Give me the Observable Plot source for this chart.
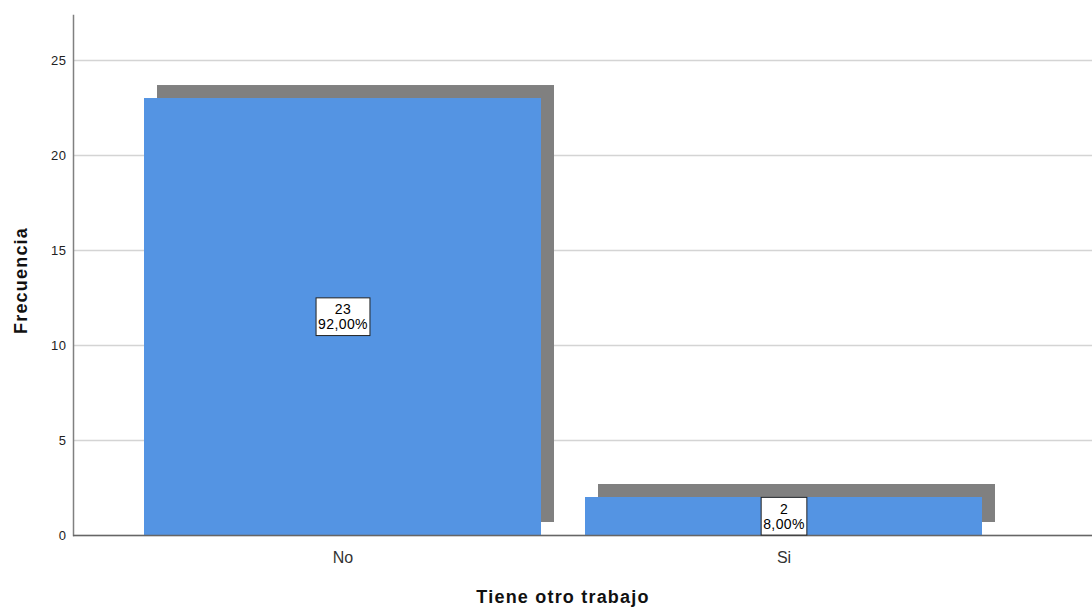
<!DOCTYPE html>
<html>
<head>
<meta charset="utf-8">
<script src="https://cdn.jsdelivr.net/npm/d3@7"></script>
<script src="https://cdn.jsdelivr.net/npm/@observablehq/plot@0.6"></script>
<style>
  html, body { margin: 0; padding: 0; background: #fff; }
  #chart { width: 1092px; height: 609px; }
  svg { font-family: "Liberation Sans", Arial, sans-serif; }
  .ttl text { letter-spacing: 1.2px; }
  .vlabel text { letter-spacing: 0.4px; }
  .yax text { letter-spacing: 0.5px; }
</style>
</head>
<body>
<div id="chart"></div>
<script>
const categories = ["No", "Si"];
const counts = [23, 2];
const percents = ["92,00%", "8,00%"];
const yTicks = [0, 5, 10, 15, 20, 25];

const data = categories.map((c, i) => ({cat: c, n: counts[i], pct: percents[i]}));

const chart = Plot.plot({
  width: 1092,
  height: 609,
  marginLeft: 73,
  marginRight: 0,
  marginTop: 15,
  marginBottom: 74,
  style: {fontFamily: "'Liberation Sans', Arial, sans-serif", background: "#fff"},
  x: {domain: categories, range: [144, 982], paddingInner: 0.1, paddingOuter: 0, label: null},
  y: {domain: [0, 27.37], label: null},
  marks: [
    Plot.gridY(yTicks, {stroke: "#d4d4d4", strokeOpacity: 1, strokeWidth: 1.5}),
    Plot.barY(data, {x: "cat", y: "n", fill: "#808080", dx: 13, dy: -13}),
    Plot.barY(data, {x: "cat", y: "n", fill: "#5494e3"}),
    Plot.frame({anchor: "left", stroke: "#808080", strokeWidth: 1.5}),
    Plot.ruleY([0], {stroke: "#666", strokeWidth: 1.5}),
    Plot.axisY(yTicks, {tickSize: 0, tickPadding: 7, fontSize: 13, fill: "#222", label: null, className: "yax"}),
    Plot.axisX({tickSize: 0, tickPadding: 16, fontSize: 16, fill: "#333", label: null}),
    Plot.text(["Frecuencia"], {frameAnchor: "left", textAnchor: "middle", dx: -52, dy: 5, rotate: -90, fontWeight: "bold", fontSize: 18, fill: "#111", className: "ttl"}),
    Plot.text(["Tiene otro trabajo"], {frameAnchor: "bottom", textAnchor: "middle", dx: -20, dy: 67, fontWeight: "bold", fontSize: 18, fill: "#111", className: "ttl"}),
    Plot.text(data, {x: "cat", y: d => d.n / 2, text: d => d.n + "\n" + d.pct, fontSize: 14, fill: "#000", lineHeight: 1.05, className: "vlabel"})
  ]
});
document.getElementById("chart").appendChild(chart);

// draw boxes behind value labels, sized from the rendered text
d3.select(chart).selectAll("g.vlabel text").each(function() {
  const bb = this.getBBox();
  const padX = 2, padY = 3.5;
  d3.select(this.parentNode).insert("rect", () => this)
    .attr("transform", this.getAttribute("transform"))
    .attr("x", bb.x - padX).attr("y", bb.y - padY)
    .attr("width", bb.width + 2 * padX).attr("height", bb.height + 2 * padY)
    .attr("fill", "#fff").attr("stroke", "#222").attr("stroke-width", 1);
});
</script>
</body>
</html>
